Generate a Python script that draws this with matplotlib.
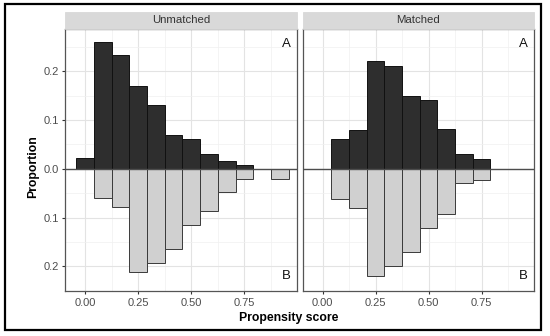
import numpy as np
import matplotlib
matplotlib.use("Agg")
import matplotlib.pyplot as plt
from matplotlib.patches import Rectangle

# ---- data ----
bin_centers = [0.0, 1/12, 2/12, 3/12, 4/12, 5/12, 6/12, 7/12, 8/12, 9/12, 10/12, 11/12]
panels = ["Unmatched", "Matched"]
unmatched_A = [0.022, 0.260, 0.234, 0.169, 0.130, 0.069, 0.062, 0.030, 0.015, 0.008, 0.0, 0.0]
unmatched_B = [0.0, 0.059, 0.079, 0.212, 0.193, 0.164, 0.116, 0.087, 0.048, 0.020, 0.0, 0.020]
matched_A = [0.0, 0.061, 0.080, 0.222, 0.211, 0.150, 0.142, 0.081, 0.030, 0.020, 0.0, 0.0]
matched_B = [0.0, 0.061, 0.081, 0.220, 0.200, 0.170, 0.122, 0.092, 0.030, 0.022, 0.0, 0.0]
x_ticks = [0.0, 0.25, 0.5, 0.75]
x_ticklabels = ["0.00", "0.25", "0.50", "0.75"]
y_ticks = [-0.2, -0.1, 0.0, 0.1, 0.2]
y_ticklabels = ["0.2", "0.1", "0.0", "0.1", "0.2"]

plt.rcParams['font.family'] = ['Liberation Sans', 'DejaVu Sans']

W, H = 550, 336
fig = plt.figure(figsize=(5.5, 3.36), dpi=100)

def fx(px):
    return px / W

def fy(py):
    return 1 - py / H

top_px, bot_px = 29.3, 290.7
lefts = [65, 302.7]
rights = [297, 534]
data = [(unmatched_A, unmatched_B), (matched_A, matched_B)]

for i, name in enumerate(panels):
    ax = fig.add_axes([fx(lefts[i]), fy(bot_px), fx(rights[i] - lefts[i]), (bot_px - top_px) / H])
    A, B = data[i]
    xs = np.array(bin_centers)
    a = np.array(A)
    b = np.array(B)
    ma = a > 0
    mb = b > 0
    ax.bar(xs[ma], a[ma], width=1/12, color="#2e2e2e", edgecolor="#111111", linewidth=0.7, zorder=3)
    ax.bar(xs[mb], -b[mb], width=1/12, color="#d0d0d0", edgecolor="#3a3a3a", linewidth=0.7, zorder=3)
    ax.axhline(0, color="#4d4d4d", lw=1.0, zorder=4)
    ax.set_xlim(-0.094, 0.997)
    ax.set_ylim(-0.245, 0.286)
    ax.set_xticks(x_ticks)
    ax.set_xticklabels(x_ticklabels)
    ax.set_xticks([0.125, 0.375, 0.625, 0.875], minor=True)
    ax.set_yticks(y_ticks)
    ax.set_yticks([-0.25, -0.15, -0.05, 0.05, 0.15, 0.25], minor=True)
    if i == 0:
        ax.set_yticklabels(y_ticklabels)
        ax.tick_params(axis='y', which='major', length=2.5, color="#333333", labelsize=8,
                       labelcolor="#4d4d4d", pad=2)
    else:
        ax.set_yticklabels([])
        ax.tick_params(axis='y', which='major', length=0)
    ax.tick_params(axis='x', which='major', length=2.5, color="#333333", labelsize=8,
                   labelcolor="#4d4d4d", pad=3)
    ax.tick_params(which='minor', length=0)
    ax.grid(True, which='major', color="#e3e3e3", lw=0.8, zorder=0)
    ax.grid(True, which='minor', color="#f0f0f0", lw=0.5, zorder=0)
    ax.set_axisbelow(True)
    for s in ax.spines.values():
        s.set_color("#555555")
        s.set_linewidth(0.9)
    ax.text(0.975, 0.965, "A", transform=ax.transAxes, ha='right', va='top', fontsize=9.5, color="#111111")
    ax.text(0.975, 0.035, "B", transform=ax.transAxes, ha='right', va='bottom', fontsize=9.5, color="#111111")
    # strip
    strip = Rectangle((fx(lefts[i]), fy(top_px)), fx(rights[i] - lefts[i]), (top_px - 11.5) / H,
                      transform=fig.transFigure, facecolor="#d9d9d9", edgecolor="#d9d9d9", lw=0.6)
    fig.add_artist(strip)
    fig.text(fx((lefts[i] + rights[i]) / 2), fy((11.5 + top_px) / 2), name, ha='center', va='center',
             fontsize=8.2, color="#333333")

fig.text(fx(289), fy(318), "Propensity score", ha='center', va='center', fontsize=8.8, fontweight='bold')
fig.text(fx(33), fy(167), "Proportion", ha='center', va='center', rotation=90, fontsize=8.8, fontweight='bold')

frame = Rectangle((fx(5), fy(330)), fx(536), (330 - 4) / H, transform=fig.transFigure,
                  facecolor='none', edgecolor='black', lw=1.6)
fig.add_artist(frame)

fig.savefig("out.png", dpi=100)
